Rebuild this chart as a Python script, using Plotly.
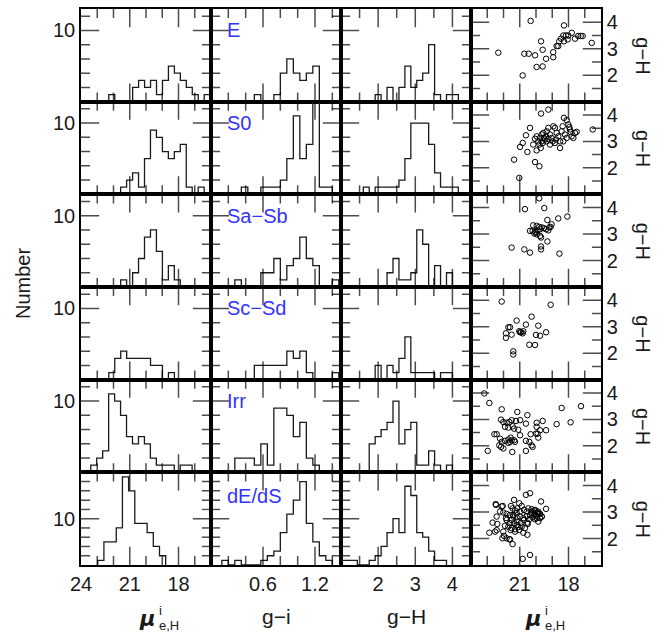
import plotly.graph_objects as go
from plotly.subplots import make_subplots

TYPES = ["E", "S0", "Sa−Sb", "Sc−Sd", "Irr", "dE/dS"]

# ---- histogram data: (left-most bin edge, counts read left to right) ----
MU_STEP = -0.367      # mu bins run faint -> bright (axis is reversed)
MU_HIST = {
    "E":     (22.29, [1, 0, 0, 0, 2, 3, 2, 3, 1, 3, 5, 4, 3, 2, 1, 0, 1]),
    "S0":    (21.56, [1, 2, 3, 1, 5, 9, 8, 6, 5, 6, 7, 1, 0, 1]),
    "Sa−Sb": (21.56, [1, 0, 2, 4, 7, 8, 5, 1, 3, 1]),
    "Sc−Sd": (22.29, [1, 3, 4, 3, 3, 3, 3, 2, 2, 0, 1]),
    "Irr":   (23.40, [1, 2, 3, 11, 10, 8, 5, 4, 5, 4, 2, 1, 1, 1, 0, 1, 1]),
    "dE/dS": (22.97, [1, 5, 5, 8, 19, 16, 9, 9, 7, 4, 2]),
}
MU_STEP_DEDS = -0.38

GI_STEP = 0.075
GI_HIST = {
    "E":     (0.500, [1, 0, 0, 1, 4, 6, 4, 3, 4, 5]),
    "S0":    (0.350, [1, 0, 0, 1, 1, 1, 2, 5, 11, 5, 7, 16, 1, 1]),
    "Sa−Sb": (0.275, [1, 0, 0, 0, 2, 2, 4, 1, 3, 4, 7, 4, 3, 0, 0, 1]),
    "Sc−Sd": (0.500, [2, 2, 2, 2, 2, 4, 3, 4, 1, 0, 0, 0, 1]),
    "Irr":   (0.275, [2, 2, 2, 1, 4, 1, 9, 9, 8, 5, 7, 2, 1]),
    "dE/dS": (0.125, [1, 0, 1, 0, 0, 0, 1, 2, 3, 7, 11, 14, 18, 9, 5, 2, 1]),
}

GH_STEP = 0.16
GH_HIST = {
    "E":     (1.92, [1, 0, 2, 0, 2, 5, 2, 3, 4, 8, 1, 0, 1, 1]),
    "S0":    (1.60, [1, 0, 1, 1, 1, 1, 2, 5, 10, 10, 10, 7, 3, 1, 1, 1]),
    "Sa−Sb": (2.24, [2, 4, 1, 1, 2, 8, 6, 0, 3, 0, 2]),
    "Sc−Sd": (1.92, [2, 0, 2, 1, 3, 6, 1, 1, 1, 1, 0, 1, 1]),
    "Irr":   (1.76, [4, 5, 6, 7, 10, 4, 6, 7, 1, 1, 3, 1, 0, 1]),
    "dE/dS": (0.96, [1, 1, 1, 0, 0, 1, 2, 4, 7, 10, 7, 17, 15, 7, 6, 3, 1, 1]),
}

# ---- scatter data: mu_e,H and g-H per galaxy ----
MU_E = [20.33, 22.32, 20.72, 20.45, 20.06, 19.69, 19.59, 19.38, 19.96, 19.59, 20.82, 18.94, 18.94,
        18.73, 18.63, 18.57, 18.46, 18.28, 18.32, 18.15, 18.05, 18.28, 17.80, 17.60, 17.40, 17.25,
        17.13, 16.57, 18.01]
GH_E = [4.05, 2.85, 2.81, 2.81, 2.75, 3.28, 2.96, 2.62, 2.31, 2.33, 1.99, 2.68, 2.87,
        3.10, 3.10, 3.28, 3.38, 3.88, 3.50, 3.50, 3.35, 3.28, 3.60, 3.38, 3.48, 3.48,
        3.48, 3.22, 3.50]

MU_S0 = [19.69, 19.24, 18.28, 18.11, 18.01, 17.95, 17.91, 17.87, 20.37, 20.62, 20.82, 20.98, 20.53,
         21.35, 21.03, 20.06, 19.79, 19.96, 19.86, 19.75, 19.65, 19.55, 19.34, 19.24, 19.14, 19.04,
         18.93, 18.83, 18.73, 18.63, 18.52, 18.42, 18.36, 18.22, 18.11, 17.81, 17.70, 17.60, 17.50,
         19.79, 19.71, 19.59, 19.45, 19.34, 19.14, 18.83, 18.52, 18.32, 16.51, 20.06, 19.96, 19.65,
         19.51, 19.38, 19.24, 18.97, 18.77, 20.17]
GH_S0 = [4.05, 4.20, 3.89, 3.80, 3.64, 3.54, 3.45, 3.35, 3.51, 3.23, 2.94, 2.79, 2.60,
         2.31, 1.62, 2.22, 2.06, 2.66, 3.00, 3.13, 3.26, 3.32, 3.38, 3.51, 3.26, 3.13,
         3.57, 3.51, 3.32, 3.19, 3.00, 3.38, 3.57, 3.26, 3.13, 3.19, 3.13, 3.32, 3.36,
         2.88, 2.75, 2.94, 3.07, 3.00, 2.88, 2.94, 2.75, 3.00, 3.45, 3.10, 3.19, 3.00,
         3.13, 3.19, 3.09, 3.00, 3.07, 2.88]

MU_SAB = [19.80, 20.68, 19.49, 19.30, 18.63, 18.07, 20.17, 19.96, 19.80, 19.65, 20.37, 20.21, 20.06,
          20.00, 19.90, 19.75, 19.51, 19.38, 19.18, 19.10, 19.04, 19.24, 19.75, 19.69, 19.30, 21.50,
          20.72, 20.37, 19.69, 19.69, 18.56, 19.96, 20.10]
GH_SAB = [4.35, 3.94, 3.98, 3.53, 3.59, 3.66, 3.33, 3.31, 3.27, 3.25, 3.12, 3.12, 3.09,
          3.06, 3.14, 3.18, 3.22, 3.18, 3.25, 3.27, 3.37, 3.14, 2.93, 2.87, 2.72, 2.49,
          2.42, 2.30, 2.53, 2.42, 2.26, 2.99, 3.02]

MU_SCD = [22.11, 19.10, 21.19, 20.27, 20.62, 19.86, 21.70, 21.60, 21.85, 21.50, 21.03, 20.92, 20.82,
          20.78, 19.38, 20.00, 19.75, 21.85, 20.41, 20.06, 21.40, 21.40, 20.98]
GH_SCD = [3.95, 3.83, 3.23, 3.38, 3.08, 3.04, 2.98, 2.98, 2.75, 2.70, 2.83, 2.79, 2.75,
          2.83, 2.79, 2.69, 2.66, 2.58, 2.32, 2.31, 2.07, 1.95, 2.79]

MU_IRR = [23.18, 22.87, 22.11, 21.15, 20.53, 18.42, 17.23, 22.15, 22.01, 21.81, 21.64, 21.50, 21.23,
          20.98, 20.62, 19.96, 19.59, 18.73, 17.87, 21.91, 21.70, 21.44, 21.35, 21.09, 19.96, 19.75,
          19.38, 20.33, 20.00, 22.56, 22.42, 22.21, 22.11, 21.91, 21.70, 21.56, 21.35, 20.98, 21.29,
          21.70, 21.50, 22.26, 22.15, 22.01, 21.60, 20.62, 20.41, 20.27, 20.21, 19.86, 22.97, 21.46,
          20.62, 19.90]
GH_IRR = [3.98, 3.62, 3.38, 3.28, 3.16, 3.43, 3.50, 2.99, 2.90, 2.87, 2.90, 2.97, 2.94,
          2.97, 2.84, 2.87, 2.94, 2.82, 2.89, 2.72, 2.69, 2.74, 2.65, 2.61, 2.72, 2.59,
          2.59, 2.44, 2.46, 2.44, 2.44, 2.27, 2.15, 2.19, 2.24, 2.31, 2.21, 2.40, 2.15,
          2.11, 2.21, 2.02, 1.96, 1.90, 2.15, 2.19, 2.15, 2.02, 1.96, 2.31, 1.81, 1.77,
          1.81, 2.46]

MU_DEDS = [20.37, 20.62, 19.69, 19.38, 22.46, 22.11, 21.35, 21.03, 21.54, 21.44, 21.29, 21.15, 20.88,
           20.74, 20.47, 20.27, 20.10, 19.96, 19.79, 19.65, 19.75, 19.86, 22.01, 21.81, 21.60, 21.40,
           21.19, 20.98, 20.78, 20.57, 20.37, 20.21, 20.00, 22.42, 22.67, 22.38, 21.91, 21.70, 21.50,
           21.29, 21.09, 20.88, 20.68, 20.51, 21.50, 21.35, 21.15, 20.94, 20.74, 20.53, 20.41, 21.81,
           21.60, 22.87, 22.52, 22.42, 21.97, 21.81, 21.64, 21.44, 21.56, 21.29, 21.03, 20.78, 20.53,
           21.85, 20.06, 19.86, 20.82, 20.37, 22.21, 22.01, 21.19, 20.98, 20.57, 20.27, 21.19, 21.40,
           20.06, 19.90, 19.75, 19.65, 20.10, 20.27, 19.96, 22.48, 22.05, 22.07, 21.60]
GH_DEDS = [3.71, 3.65, 3.40, 3.12, 3.27, 3.21, 3.46, 3.33, 3.23, 3.14, 3.06, 3.14, 3.23,
           3.08, 3.14, 3.11, 3.06, 2.98, 2.93, 2.83, 2.77, 3.02, 2.98, 2.93, 2.89, 2.83,
           2.80, 2.83, 2.77, 2.85, 2.89, 2.80, 2.85, 2.83, 2.60, 2.55, 2.48, 2.45, 2.39,
           2.35, 2.43, 2.45, 2.39, 2.55, 2.70, 2.58, 2.64, 2.58, 2.70, 2.60, 2.73, 2.70,
           2.58, 2.22, 2.26, 2.32, 2.10, 2.01, 1.97, 1.79, 2.32, 2.26, 2.32, 2.22, 2.14,
           2.77, 2.73, 2.64, 1.23, 1.38, 3.02, 2.26, 2.51, 3.02, 3.02, 2.96, 2.96, 2.89,
           3.08, 2.98, 2.93, 2.83, 2.89, 3.02, 2.77, 3.30, 3.23, 2.01, 1.97]

SCATTER = {"E": (MU_E, GH_E), "S0": (MU_S0, GH_S0), "Sa−Sb": (MU_SAB, GH_SAB),
           "Sc−Sd": (MU_SCD, GH_SCD), "Irr": (MU_IRR, GH_IRR), "dE/dS": (MU_DEDS, GH_DEDS)}

# ---- axis ticks: labelled values, interior major marks, interior minor marks ----
MU_TICKS, MU_MAJOR, MU_MINOR = [24, 21, 18], [21, 18], [23, 22, 20, 19, 17]
GI_TICKS, GI_MAJOR, GI_MINOR = [0, 0.6, 1.2], [0.6, 1.2], [0.2, 0.4, 0.8, 1.0, 1.4]
GH_TICKS, GH_MAJOR, GH_MINOR = [1, 2, 3, 4], [2, 3, 4], [1.5, 2.5, 3.5]
N_TICKS, N_MAJOR, N_MINOR = [0, 10], [10], [2, 4, 6, 8, 12]
N6_TICKS, N6_MAJOR, N6_MINOR = [0, 10, 20], [10], [2, 4, 6, 8, 12, 14, 16, 18]

MU_RANGE, GI_RANGE, GH_RANGE = [24, 16], [0, 1.5], [1, 4.5]
N_RANGE, N6_RANGE = [0, 13], [0, 20]

FONT = "Liberation Sans"
TXT = "#1a1a1a"
BLUE = "#3333ff"

W, H = 670, 632
L, R, T, B = 81, 69, 7, 67
pw, ph = W - L - R, H - T - B
cell_w, cell_h = pw / 4, ph / 6
MAJ, MIN = 13, 6.5          # tick lengths in pixels (inside part)


def step_xy(start, step, counts):
    edges = [start + step * i for i in range(len(counts) + 1)]
    xs = [edges[0]] + edges[:-1] + [edges[-1]]
    ys = [0] + list(counts) + [0]
    return xs, ys


def tick_trace(xr, yr, xmarks, ymarks):
    """Tick marks as line-shaped markers centred on each panel edge; the outer half is
    clipped by the panel, so only the inward half shows (as in the reference)."""
    xs, ys, sym, size = [], [], [], []
    for vals, plen in zip(xmarks, (MAJ, MIN)):
        for v in vals:
            for edge in yr:
                xs.append(v)
                ys.append(edge)
                sym.append("line-ns-open")
                size.append(2 * plen)
    for vals, plen in zip(ymarks, (MAJ, MIN)):
        for v in vals:
            for edge in xr:
                xs.append(edge)
                ys.append(v)
                sym.append("line-ew-open")
                size.append(2 * plen)
    return go.Scatter(x=xs, y=ys, mode="markers", cliponaxis=True,
                      marker=dict(symbol=sym, size=size, color="black",
                                  line=dict(color="black", width=1.5)),
                      hoverinfo="skip", showlegend=False)


fig = make_subplots(rows=6, cols=4, horizontal_spacing=0, vertical_spacing=0)

xcfg = {
    1: dict(range=MU_RANGE, tickvals=MU_TICKS, ticktext=["24", "21", "18"]),
    2: dict(range=GI_RANGE, tickvals=GI_TICKS, ticktext=["", "0.6", "1.2"]),
    3: dict(range=GH_RANGE, tickvals=GH_TICKS, ticktext=["", "2", "3", "4"]),
    4: dict(range=MU_RANGE, tickvals=MU_TICKS, ticktext=["", "21", "18"]),
}
xmarks = {1: (MU_MAJOR, MU_MINOR), 2: (GI_MAJOR, GI_MINOR), 3: (GH_MAJOR, GH_MINOR),
          4: (MU_MAJOR, MU_MINOR)}

base = dict(showline=True, linewidth=1.6, linecolor="black", mirror="allticks",
            ticks="", showgrid=False, zeroline=False, tickmode="array",
            tickfont=dict(family=FONT, size=20, color=TXT))

for r, t in enumerate(TYPES, start=1):
    for c, (hist, stp) in enumerate([(MU_HIST, MU_STEP_DEDS if t == "dE/dS" else MU_STEP),
                                     (GI_HIST, GI_STEP), (GH_HIST, GH_STEP)], start=1):
        start, counts = hist[t]
        xs, ys = step_xy(start, stp, counts)
        fig.add_trace(go.Scatter(x=xs, y=ys, mode="lines", line_shape="hv",
                                 line=dict(color="#1a1a1a", width=1.3),
                                 hoverinfo="skip", showlegend=False), row=r, col=c)
    mu, gh = SCATTER[t]
    fig.add_trace(go.Scatter(x=mu, y=gh, mode="markers",
                             marker=dict(symbol="circle-open", size=5.5, color="black",
                                         line=dict(width=1, color="black")),
                             showlegend=False), row=r, col=4)

    for c in range(1, 5):
        fig.update_xaxes(row=r, col=c, **base, **xcfg[c], showticklabels=(r == 6))
        if c < 4:
            if r < 6:
                ycfg = dict(range=N_RANGE, tickvals=N_TICKS, ticktext=["", "10"])
                ymarks = (N_MAJOR, N_MINOR)
            else:
                ycfg = dict(range=N6_RANGE, tickvals=N6_TICKS, ticktext=["", "10", ""])
                ymarks = (N6_MAJOR, N6_MINOR)
            fig.update_yaxes(row=r, col=c, **base, **ycfg, showticklabels=(c == 1))
        else:
            ycfg = dict(range=GH_RANGE, tickvals=GH_TICKS, ticktext=["", "2", "3", "4"])
            ymarks = (GH_MAJOR, GH_MINOR)
            fig.update_yaxes(row=r, col=c, **base, **ycfg, side="right", showticklabels=True)
        fig.add_trace(tick_trace(xcfg[c]["range"], ycfg["range"], xmarks[c], ymarks),
                      row=r, col=c)


def px(x):
    return (x - L) / pw


def py(y):
    return (H - B - y) / ph


def note(text, x, y, size=20, color=TXT, family=FONT, angle=0, xanchor="center", **kw):
    return dict(text=text, x=px(x), y=py(y), xref="paper", yref="paper",
                xanchor=xanchor, yanchor="middle", textangle=angle, showarrow=False,
                font=dict(family=family, size=size, color=color), **kw)


ann = []
for r, t in enumerate(TYPES, start=1):
    yidx = (r - 1) * 4 + 2
    ann.append(dict(text=t, x=px(225), xref="paper", xanchor="left",
                    y=(15 if t == "dE/dS" else 10), yref=f"y{yidx}", yanchor="middle",
                    showarrow=False, font=dict(family=FONT, size=20, color=BLUE)))
    yc = T + (r - 0.5) * cell_h
    ann.append(note("g−H", 643, yc, angle=90))

ann.append(note("Number", 23, 283, angle=-90))
ann.append(note("g−i", 276, 617, size=21))
ann.append(note("g−H", 406, 617, size=21))
for cx in (147, 533):
    ann.append(note("<b><i>μ</i></b>", cx, 619, size=21, family="DejaVu Sans"))
    ann.append(note("i", cx + 13, 611, size=13))
    ann.append(note("e,H", cx + 10, 626, size=13, xanchor="left"))

fig.update_layout(width=W, height=H, margin=dict(l=L, r=R, t=T, b=B, pad=0),
                  paper_bgcolor="white", plot_bgcolor="white", showlegend=False,
                  annotations=ann)

fig.write_html("out.html")
